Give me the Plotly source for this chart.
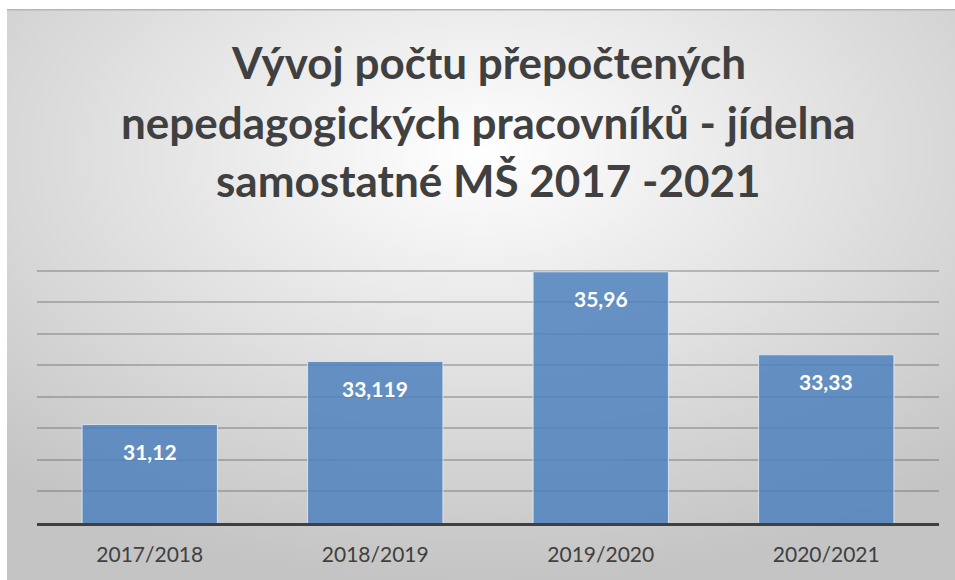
import plotly.graph_objects as go
import urllib.parse

categories = ["2017/2018", "2018/2019", "2019/2020", "2020/2021"]
values = [31.12, 33.119, 35.96, 33.33]
labels = ["31,12", "33,119", "35,96", "33,33"]
title_lines = ["Vývoj počtu přepočtených",
               "nepedagogických pracovníků - jídelna",
               "samostatné MŠ 2017 -2021"]

W, H = 955, 580
L, R, T, B = 37, 16, 239, 580 - 523
pw, ph = W - L - R, H - T - B

svg = ('<svg xmlns="http://www.w3.org/2000/svg" width="948" height="571" preserveAspectRatio="none">'
       '<defs><radialGradient id="g" cx="50%" cy="25%" r="75%" gradientUnits="objectBoundingBox">'
       '<stop offset="0%" stop-color="#ffffff"/><stop offset="100%" stop-color="#c4c4c4"/>'
       '</radialGradient></defs><rect width="948" height="571" fill="url(#g)"/>'
       '<rect x="0" y="0" width="948" height="1.5" fill="#b5b5b5"/></svg>')
src = "data:image/svg+xml;charset=utf-8," + urllib.parse.quote(svg)

fig = go.Figure()
fig.add_trace(go.Bar(
    x=categories, y=values,
    marker=dict(color="rgba(79,129,189,0.85)", line=dict(color="rgba(230,238,248,0.8)", width=1)),
    width=0.6, hoverinfo="x+y",
))

ann = []
for c, v, t in zip(categories, values, labels):
    ann.append(dict(x=c, y=v, xref="x", yref="y", text=t, showarrow=False,
                    yanchor="middle", yshift=-27,
                    font=dict(family="Lato", size=21, color="white", weight="bold")))
for line, py in zip(title_lines, [62, 122, 180]):
    ann.append(dict(x=0.5, y=1 + (T - py) / ph, xref="paper", yref="paper",
                    text="<b>" + line + "</b>",
                    showarrow=False, xanchor="center", yanchor="middle",
                    font=dict(family="Lato", size=44, color="#404040")))

fx0, fy0 = 7, 9
fig.update_layout(
    width=W, height=H,
    margin=dict(l=L, r=R, t=T, b=B, pad=0),
    paper_bgcolor="white", plot_bgcolor="rgba(0,0,0,0)",
    showlegend=False, bargap=0.4,
    annotations=ann,
    images=[dict(source=src, xref="paper", yref="paper",
                 x=(fx0 - L) / pw, y=1 + (T - fy0) / ph,
                 sizex=(W - fx0) / pw, sizey=(H - fy0) / ph,
                 xanchor="left", yanchor="top", sizing="stretch", layer="below")],
    xaxis=dict(showgrid=False, showline=True, linecolor="#404040", linewidth=3,
               ticks="", tickfont=dict(family="Lato", size=21, color="#404040"),
               ticklabelstandoff=11),
    yaxis=dict(range=[28, 37], dtick=1, showgrid=True, gridcolor="rgba(90,90,90,0.35)",
               gridwidth=1.5, showticklabels=False, zeroline=False, showline=False, ticks=""),
)

fig.write_html("out.html", config={"displayModeBar": False},
               post_script="document.body.style.margin='0';document.body.style.overflow='hidden';")
